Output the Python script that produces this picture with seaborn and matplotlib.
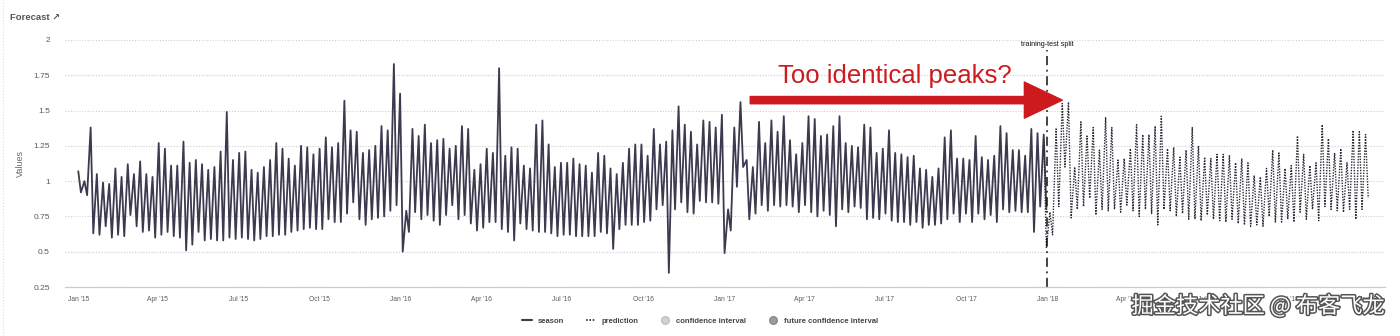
import numpy as np
import pandas as pd
import matplotlib
matplotlib.use("Agg")
import matplotlib.pyplot as plt
from matplotlib.lines import Line2D
import matplotlib.patheffects as pe
import seaborn as sns

# ---------------- data ----------------
# weekly high / low of the observed series ("season"), weeks from 2015-01-01
season_start = "2015-01-01"
season_hi = [
    1.07, 1.00, 1.38, 1.05, 0.99, 0.98, 1.09, 1.03, 1.12, 1.05,
    1.14, 1.05, 1.03, 1.27, 1.23, 1.11, 1.11, 1.28, 1.13, 1.15,
    1.12, 1.08, 1.10, 1.21, 1.49, 1.15, 1.20, 1.21, 1.08, 1.06,
    1.10, 1.15, 1.27, 1.23, 1.16, 1.11, 1.25, 1.24, 1.19, 1.23,
    1.31, 1.24, 1.27, 1.57, 1.36, 1.35, 1.20, 1.22, 1.25, 1.39,
    1.36, 1.83, 1.62, 0.79, 1.37, 1.32, 1.40, 1.27, 1.29, 1.30,
    1.23, 1.25, 1.39, 1.37, 1.08, 1.12, 1.23, 1.20, 1.80, 1.18,
    1.24, 1.23, 1.11, 1.09, 1.40, 1.43, 1.26, 1.10, 1.13, 1.13,
    1.16, 1.12, 1.11, 1.06, 1.20, 1.18, 1.09, 1.05, 1.13, 1.23,
    1.26, 1.26, 1.18, 1.37, 1.26, 1.28, 1.36, 1.53, 1.40, 1.35,
    1.26, 1.43, 1.42, 1.38, 1.47, 0.80, 1.38, 1.56, 1.15, 1.10,
    1.42, 1.27, 1.43, 1.35, 1.46, 1.29, 1.19, 1.27, 1.46, 1.44,
    1.32, 1.33, 1.39, 1.46, 1.27, 1.25, 1.24, 1.40, 1.38, 1.20,
    1.23, 1.36, 1.20, 1.19, 1.17, 1.18, 1.09, 1.08, 1.03, 1.09,
    1.31, 1.36, 1.16, 1.16, 1.15, 1.32, 1.17, 1.15, 1.18, 1.39,
    1.34, 1.22, 1.22, 1.18, 1.37, 1.34, 1.33,
]
season_lo = [
    0.92, 0.90, 0.63, 0.62, 0.68, 0.60, 0.62, 0.61, 0.76, 0.68,
    0.64, 0.65, 0.60, 0.62, 0.64, 0.61, 0.60, 0.51, 0.55, 0.64,
    0.58, 0.59, 0.58, 0.58, 0.60, 0.59, 0.60, 0.59, 0.58, 0.59,
    0.61, 0.61, 0.62, 0.62, 0.64, 0.65, 0.66, 0.67, 0.66, 0.66,
    0.73, 0.71, 0.71, 0.77, 0.85, 0.73, 0.69, 0.73, 0.74, 0.75,
    0.79, 0.83, 0.50, 0.64, 0.78, 0.73, 0.76, 0.72, 0.69, 0.76,
    0.83, 0.73, 0.76, 0.70, 0.65, 0.67, 0.71, 0.71, 0.66, 0.64,
    0.58, 0.70, 0.66, 0.65, 0.64, 0.64, 0.63, 0.61, 0.62, 0.62,
    0.61, 0.61, 0.61, 0.61, 0.64, 0.63, 0.52, 0.66, 0.69, 0.69,
    0.69, 0.71, 0.72, 0.80, 0.83, 0.35, 0.80, 0.85, 0.78, 0.77,
    0.86, 0.85, 0.85, 0.84, 0.49, 0.65, 0.96, 1.10, 0.73, 0.77,
    0.83, 0.79, 0.83, 0.82, 0.83, 0.82, 0.78, 0.83, 0.78, 0.75,
    0.79, 0.76, 0.68, 0.80, 0.78, 0.82, 0.81, 0.73, 0.74, 0.73,
    0.77, 0.72, 0.71, 0.71, 0.69, 0.71, 0.67, 0.69, 0.69, 0.70,
    0.73, 0.77, 0.71, 0.77, 0.71, 0.77, 0.73, 0.76, 0.71, 0.80,
    0.78, 0.79, 0.78, 0.78, 0.64, 0.82, 0.80,
]

# weekly high / low of the out-of-sample prediction, weeks from 2017-12-28
pred_start = "2017-12-28"
pred_hi = [
    1.30, 0.78, 1.37, 1.55, 1.56, 1.10, 1.42, 1.32, 1.38, 1.22,
    1.45, 1.38, 1.15, 1.16, 1.23, 1.40, 1.33, 1.33, 1.39, 1.46,
    1.23, 1.24, 1.17, 1.22, 1.38, 1.25, 1.17, 1.16, 1.19, 1.19,
    1.18, 1.13, 1.16, 1.13, 1.04, 1.03, 1.09, 1.22, 1.20, 1.09,
    1.11, 1.32, 1.19, 1.11, 1.13, 1.40, 1.30, 1.20, 1.23, 1.13,
    1.36, 1.35, 1.33,
]
pred_lo = [
    0.53, 0.62, 0.82, 1.10, 0.74, 0.80, 0.82, 0.88, 0.76, 0.80,
    0.79, 0.80, 0.78, 0.83, 0.79, 0.75, 0.80, 0.77, 0.69, 0.80,
    0.79, 0.75, 0.77, 0.73, 0.73, 0.72, 0.76, 0.73, 0.72, 0.71,
    0.73, 0.70, 0.69, 0.68, 0.69, 0.68, 0.75, 0.71, 0.71, 0.73,
    0.71, 0.78, 0.73, 0.80, 0.72, 0.82, 0.80, 0.79, 0.78, 0.80,
    0.73, 0.80, 0.88,
]

y_ticks = [0.25, 0.5, 0.75, 1.0, 1.25, 1.5, 1.75, 2.0]
y_tick_labels = ["0.25", "0.5", "0.75", "1", "1.25", "1.5", "1.75", "2"]
x_tick_dates = pd.date_range("2015-01-01", "2019-01-01", freq="QS")
split_date = pd.Timestamp("2018-01-01")
legend_labels = ["season", "prediction", "confidence interval", "future confidence interval"]


def weekly_frame(start, hi, lo):
    base = pd.Timestamp(start)
    dates, vals = [], []
    for k, (h, l) in enumerate(zip(hi, lo)):
        dates += [base + pd.Timedelta(days=7 * k), base + pd.Timedelta(days=7 * k + 3)]
        vals += [h, l]
    return pd.DataFrame({"date": dates, "value": vals})


season_df = weekly_frame(season_start, season_hi, season_lo)
pred_df = weekly_frame(pred_start, pred_hi, pred_lo)

# ---------------- style ----------------
sns.set_theme(style="white")
plt.rcParams["font.family"] = ["Liberation Sans", "DejaVu Sans"]

SEASON_C = "#3d3a4f"
PRED_C = "#2b2b36"
RED = "#cc1a1f"
GREY_TXT = "#5a5a5a"

fig = plt.figure(figsize=(14, 3.36), dpi=100)
ax = fig.add_axes([65 / 1400, 49 / 336, 1320 / 1400, 247 / 336])

sns.lineplot(data=season_df, x="date", y="value", ax=ax, color=SEASON_C,
             linewidth=1.3, estimator=None, sort=False)
sns.lineplot(data=pred_df, x="date", y="value", ax=ax, color=PRED_C,
             linewidth=1.0, linestyle=(0, (1, 1)), estimator=None, sort=False)

ax.set_xlim(pd.Timestamp("2014-12-17"), pd.Timestamp("2019-01-18"))
ax.set_ylim(0.25, 2.0)
ax.set_yticks(y_ticks)
ax.set_yticklabels(y_tick_labels)
ax.set_xticks(x_tick_dates)
ax.set_xticklabels([f"{d:%b} '{d:%y}" for d in x_tick_dates])
ax.set_xlabel("")
ax.set_ylabel("Values", fontsize=6.5, color="#6a6a6a", labelpad=6)

ax.tick_params(axis="y", length=0, pad=11, labelsize=6, labelcolor=GREY_TXT)
ax.tick_params(axis="x", length=5, width=0.8, direction="inout", color="#cccccc",
               pad=4, labelsize=4.8, labelcolor=GREY_TXT)

for s in ["top", "right", "left"]:
    ax.spines[s].set_visible(False)
ax.spines["bottom"].set_color("#cccccc")
ax.spines["bottom"].set_linewidth(0.9)
ax.yaxis.grid(True, linestyle=(0, (1, 1.5)), color="#d0d0d0", linewidth=0.8)
ax.xaxis.grid(False)
ax.set_axisbelow(True)

# training/test split
ax.axvline(split_date, ymin=0, ymax=0.96, color="#111111", linewidth=1.1,
           linestyle=(0, (6, 3, 1.2, 3)))
ax.text(split_date, 1.965, "training-test split", ha="center", va="center",
        fontsize=5.2, color="#111111")

# red annotation
ax.annotate("", xy=(pd.Timestamp("2018-01-18"), 1.574),
            xytext=(pd.Timestamp("2017-01-30"), 1.574),
            arrowprops=dict(arrowstyle="simple,head_length=1.05,head_width=1.0,tail_width=0.2",
                            color=RED, mutation_scale=26, shrinkA=0, shrinkB=0))
ax.text(pd.Timestamp("2017-03-03"), 1.745, "Too identical peaks?", ha="left",
        va="center", fontsize=18.5, color=RED)

# title
fig.text(10 / 1400, 1 - 18 / 336, "Forecast \u2197", ha="left", va="center",
         fontsize=6.8, fontweight="bold", color="#555555")

# legend
handles = [
    Line2D([], [], color=SEASON_C, linewidth=1.5),
    Line2D([], [], color=PRED_C, linewidth=1.2, linestyle=(0, (1, 1))),
    Line2D([], [], marker="o", linestyle="", markersize=5.5,
           markerfacecolor="#d2d2d2", markeredgecolor="#c0c0c0"),
    Line2D([], [], marker="o", linestyle="", markersize=5.5,
           markerfacecolor="#9c9c9c", markeredgecolor="#8c8c8c"),
]
fig.legend(handles, legend_labels, loc="center", bbox_to_anchor=(700 / 1400, 1 - 321 / 336),
           ncol=4, frameon=False, prop=dict(weight="bold", size=5.5),
           labelcolor="#444444", handlelength=1.3, columnspacing=2.8, handletextpad=0.8)

# left panel border
fig.add_artist(Line2D([3 / 1400, 3 / 1400], [0, 1], transform=fig.transFigure,
                      color="#dddddd", linestyle=":", linewidth=0.8))

# watermark
fig.text(1385 / 1400, 1 - 306 / 336, "掘金技术社区 @ 布客飞龙", ha="right", va="center",
         fontsize=16, family=["Noto Sans CJK SC", "DejaVu Sans"], color="white",
         path_effects=[pe.withStroke(linewidth=2.2, foreground="#555555")])

fig.savefig("out.png", dpi=100)
